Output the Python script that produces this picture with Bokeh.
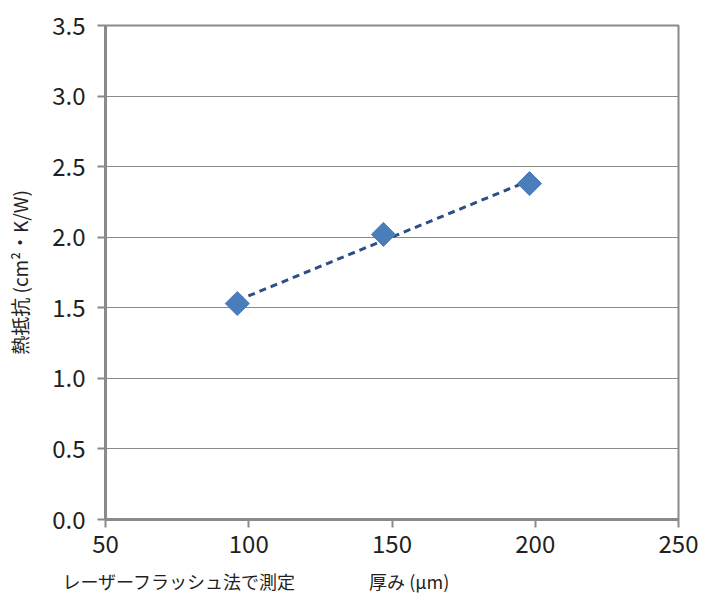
import numpy as np
from bokeh.plotting import figure
from bokeh.models import ColumnDataSource, FixedTicker, LinearAxis
from bokeh.embed import file_html
from bokeh.resources import INLINE

thickness = [96, 147, 198]
resistance = [1.53, 2.02, 2.38]
x_ticks = [50, 100, 150, 200, 250]
y_ticks = [0.0, 0.5, 1.0, 1.5, 2.0, 2.5, 3.0, 3.5]
y_label = "熱抵抗 (cm²・K/W)"
x_label = "厚み (μm)"
note = "レーザーフラッシュ法で測定"
caption_pos = [75.8, 156.0]   # x positions (axis units) of the two bottom captions

FONT = "Noto Sans CJK JP"
GRID = "#8a8a8a"
TXT = "#231f20"

p = figure(width=703, height=596, output_backend="svg", toolbar_location=None,
           x_range=(50, 250), y_range=(0, 3.5),
           min_border_left=105, min_border_right=25, min_border_top=25, min_border_bottom=76)

p.background_fill_color = "white"
p.border_fill_color = "white"
p.outline_line_color = GRID
p.outline_line_width = 2

p.xgrid.visible = False
p.ygrid.grid_line_color = GRID
p.ygrid.grid_line_width = 1
p.ygrid.ticker = FixedTicker(ticks=y_ticks)

for ax in (p.xaxis[0], p.yaxis[0]):
    ax.axis_line_color = GRID
    ax.axis_line_width = 3
    ax.major_tick_line_color = GRID
    ax.major_tick_line_width = 2
    ax.major_tick_out = 8
    ax.major_tick_in = 0
    ax.minor_tick_line_color = None
    ax.major_label_text_font = FONT
    ax.major_label_text_font_size = "24px"
    ax.major_label_text_color = TXT

p.xaxis.major_label_standoff = 7
p.yaxis.major_label_standoff = 12
p.xaxis.ticker = FixedTicker(ticks=x_ticks)
p.yaxis.ticker = FixedTicker(ticks=y_ticks)
p.yaxis.major_label_overrides = {t: f"{t:.1f}" for t in y_ticks}

p.yaxis.axis_label = y_label
p.yaxis.axis_label_text_font = FONT
p.yaxis.axis_label_text_font_size = "19px"
p.yaxis.axis_label_text_font_style = "normal"
p.yaxis.axis_label_text_color = TXT
p.yaxis.axis_label_standoff = 16

# bottom captions drawn as tick labels of an extra, invisible axis
cap_axis = LinearAxis(ticker=FixedTicker(ticks=caption_pos),
                      major_label_overrides={caption_pos[0]: note, caption_pos[1]: x_label},
                      axis_line_color=None, major_tick_line_color=None,
                      minor_tick_line_color=None, major_tick_out=0, major_tick_in=0,
                      major_label_standoff=12,
                      major_label_text_font=FONT, major_label_text_font_size="18px",
                      major_label_text_color=TXT)
p.add_layout(cap_axis, "below")

# linear trendline
coef = np.polyfit(thickness, resistance, 1)
tx = [thickness[0], thickness[-1]]
ty = [coef[0] * v + coef[1] for v in tx]
p.line(tx, ty, line_color="#2a4e86", line_width=3, line_dash="7 5")

src = ColumnDataSource(dict(x=thickness, y=resistance))
p.scatter("x", "y", source=src, marker="square", angle=np.pi / 4, size=17,
          fill_color="#4a7ebb", line_color="#4a7ebb")

open("out.html", "w").write(file_html(p, INLINE))
